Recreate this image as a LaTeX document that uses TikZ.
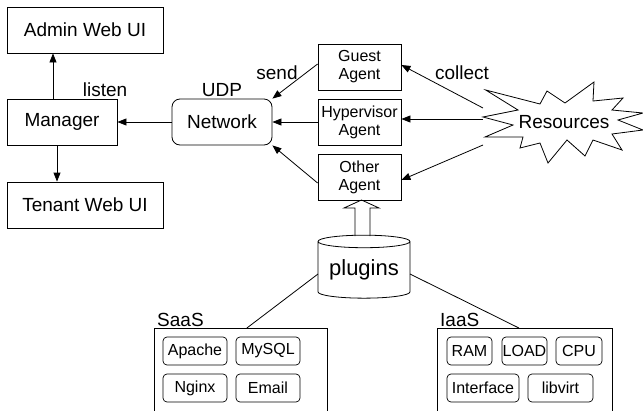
\documentclass[tikz,border=0pt]{standalone}
\usepackage{fontspec}
\setmainfont{Liberation Sans}
\usetikzlibrary{arrows.meta, shapes.geometric}
\tikzset{
    box/.style = {draw, line width = 0.8pt, minimum height = 46pt, inner sep = 0pt, font = \fontsize{19}{21}\selectfont},
    agent/.style = {draw, line width = 0.8pt, minimum width = 83pt, minimum height = 46pt, inner sep = 0pt, align = center, font = \fontsize{16}{18}\selectfont},
    item/.style = {draw, rounded corners = 4pt, line width = 0.7pt, minimum height = 28pt, inner sep = 0pt, font = \fontsize{16}{18}\selectfont},
    lbl/.style = {anchor = base, inner sep = 0pt, font = \fontsize{19}{21}\selectfont},
    arr/.style = {line width = 0.8pt, -{Triangle[length = 9pt, width = 7pt]}}
}
\begin{document}
\begin{tikzpicture}[x = 1pt, y = -1pt]
                \useasboundingbox (0, 0) rectangle (643, 410);
                \node [box, minimum width = 156pt] (admin) at (85, 30) {Admin Web UI};
                \node [box, minimum width = 110pt] (manager) at (62, 122) {Manager};
                \node [box, minimum width = 156pt] (tenant) at (85, 205) {Tenant Web UI};
                \node [box, minimum width = 100pt, rounded corners = 8pt] (network) at (222, 122) {Network};
                \node [agent] (guest) at (359.5, 67) {Guest\\Agent};
                \node [agent] (hyper) at (359.5, 122) {Hypervisor\\Agent};
                \node [agent] (other) at (359.5, 177) {Other\\Agent};
                % resources burst
                \draw [line width = 0.8pt] (485.7, 90) -- (540, 104) -- (547, 91) -- (565, 103) -- (594, 82) -- (593, 101)
                    -- (623, 98) -- (612, 110) -- (643, 113) -- (618, 120) -- (643, 130) -- (612, 134) -- (622, 150)
                    -- (593, 140) -- (585, 156) -- (567, 140) -- (548, 163) -- (540, 143) -- (520, 148) -- (523, 137)
                    -- (485, 137) -- (513, 125) -- (483, 117) -- (518, 110) -- cycle;
                \node [lbl, anchor = center] (res) at (564, 122) {Resources};
                \coordinate (r1) at (483, 108);
                \coordinate (r2) at (483, 119);
                \coordinate (r3) at (483, 145);
                \node [cylinder, draw, line width = 0.8pt, shape border rotate = 90, aspect = 0.18, minimum width = 92pt, minimum height = 63pt, inner sep = 0pt, font = \fontsize{22}{24}\selectfont] (plugins) at (364, 270) {plugins};
                \node [draw, line width = 0.8pt, minimum width = 173pt, minimum height = 90pt, inner sep = 0pt, anchor = north west] (saas) at (154, 328) {};
                \node [draw, line width = 0.8pt, minimum width = 175pt, minimum height = 90pt, inner sep = 0pt, anchor = north west] (iaas) at (437, 328) {};
                \node [lbl, anchor = base west] at (157, 326) {SaaS};
                \node [lbl, anchor = base west] at (440, 326) {IaaS};
                \node [item, minimum width = 64pt] (apache) at (195, 351) {Apache};
                \node [item, minimum width = 64pt] (mysql) at (268, 351) {MySQL};
                \node [item, minimum width = 64pt] (nginx) at (195, 388) {Nginx};
                \node [item, minimum width = 64pt] (email) at (268, 388) {Email};
                \node [item, minimum width = 45pt] (ram) at (469.5, 351) {RAM};
                \node [item, minimum width = 45pt] (load) at (524.5, 351) {LOAD};
                \node [item, minimum width = 46pt] (cpu) at (579, 351) {CPU};
                \node [item, minimum width = 72pt] (iface) at (483, 388) {Interface};
                \node [item, minimum width = 65pt] (libvirt) at (560.5, 388) {libvirt};
                % connectors
                \draw [arr] ([xshift = -9pt]manager.north) -- ([xshift = -9pt]manager.north |- admin.south);
                \draw [arr] ([xshift = -5pt]manager.south) -- ([xshift = -5pt]manager.south |- tenant.north);
                \draw [arr] (network.west) -- (manager.east);
                \draw [arr] ([yshift = 3pt]guest.west) -- (network.north east);
                \draw [arr] (hyper.west) -- (network.east);
                \draw [arr] ([yshift = -6pt]other.west) -- (network.south east);
                \draw [arr] (r1) -- ([yshift = 2pt]guest.east);
                \draw [arr] (r2) -- ([yshift = 3pt]hyper.east);
                \draw [arr] (r3) -- ([yshift = -3pt]other.east);
                \draw [line width = 0.8pt] ([xshift = -46pt, yshift = -4pt]plugins.center) -- ([xshift = 6pt]saas.north);
                \draw [line width = 0.8pt] ([xshift = 46pt, yshift = -4pt]plugins.center) -- ([xshift = -6pt]iaas.north);
                \draw [line width = 0.8pt] (355, 236) -- (355, 208) -- (344, 208) -- (361.5, 200) -- (379, 208) -- (370, 208) -- (370, 236);
                \node [lbl] at (105, 96.5) {listen};
                \node [lbl] at (222, 96) {UDP};
                \node [lbl] at (277, 79) {send};
                \node [lbl] at (462, 79) {collect};
\end{tikzpicture}
\end{document}
